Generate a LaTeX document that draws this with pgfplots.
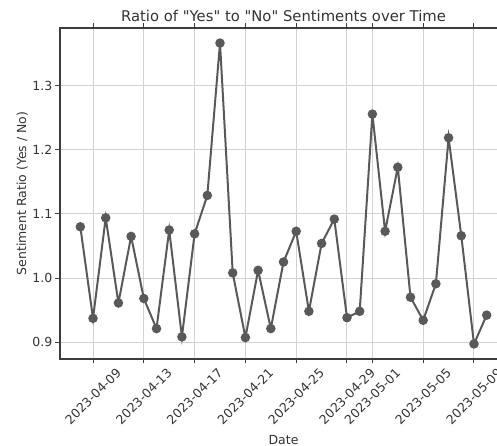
\documentclass[border=0pt]{standalone}
\usepackage{pgfplots}
\pgfplotsset{compat=1.18}
\usepackage{fontspec}
\setmainfont{DejaVu Sans}[Ligatures=TeXOff]
\usepackage{graphicx}
\definecolor{linec}{HTML}{595959}
\definecolor{gridc}{HTML}{D2D2D2}
\definecolor{spine}{HTML}{3C3C3C}
\definecolor{txt}{HTML}{333333}
\begin{document}
\begin{tikzpicture}[x=1pt,y=1pt]
\begin{axis}[
  at={(0,0)}, anchor=south west,
  scale only axis, width=447pt, height=331pt,
  xmin=-1.6, xmax=33.6, ymin=0.8735, ymax=1.3905,
  xtick={1,5,9,13,17,21,23,27,31},
  xticklabels={\rotatebox{45}{2023-04-09},\rotatebox{45}{2023-04-13},\rotatebox{45}{2023-04-17},\rotatebox{45}{2023-04-21},\rotatebox{45}{2023-04-25},\rotatebox{45}{2023-04-29},\rotatebox{45}{2023-05-01},\rotatebox{45}{2023-05-05},\rotatebox{45}{2023-05-09}},
  xticklabel style={anchor=north, font=\fontsize{12.5}{14}\selectfont, text=txt, inner sep=3.5pt},
  ytick={0.9,1.0,1.1,1.2,1.3},
  yticklabels={0.9,1.0,1.1,1.2,1.3},
  yticklabel style={font=\fontsize{12.5}{14}\selectfont, text=txt, inner sep=3pt},
  grid=major, grid style={gridc, line width=1pt},
  axis line style={spine, line width=1.3pt},
  tick align=outside, major tick length=4.5pt,
  tick style={spine, line width=1pt},
  title={Ratio of "Yes" to "No" Sentiments over Time},
  title style={font=\fontsize{14.8}{17}\selectfont, text=txt, yshift=-3pt},
  xlabel={Date}, ylabel={Sentiment Ratio (Yes / No)},
  label style={font=\fontsize{12.5}{14}\selectfont, text=txt},
  xlabel style={yshift=-3pt},
  ylabel style={yshift=-2pt},
]
\addplot[linec, line width=2pt, mark=*, mark size=3.7pt, mark options={fill=linec, draw=linec}] coordinates {
(0,1.080) (1,0.937) (2,1.094) (3,0.961) (4,1.065) (5,0.968) (6,0.921) (7,1.075)
(8,0.908) (9,1.069) (10,1.129) (11,1.367) (12,1.008) (13,0.907) (14,1.012) (15,0.921)
(16,1.025) (17,1.073) (18,0.948) (19,1.054) (20,1.092) (21,0.938) (22,0.948) (23,1.256)
(24,1.073) (25,1.173) (26,0.970) (27,0.934) (28,0.991) (29,1.219) (30,1.066) (31,0.897)
(32,0.942)
};
\end{axis}
\pgfresetboundingbox
\useasboundingbox (-60,-87) rectangle (437,359);
\end{tikzpicture}
\end{document}
